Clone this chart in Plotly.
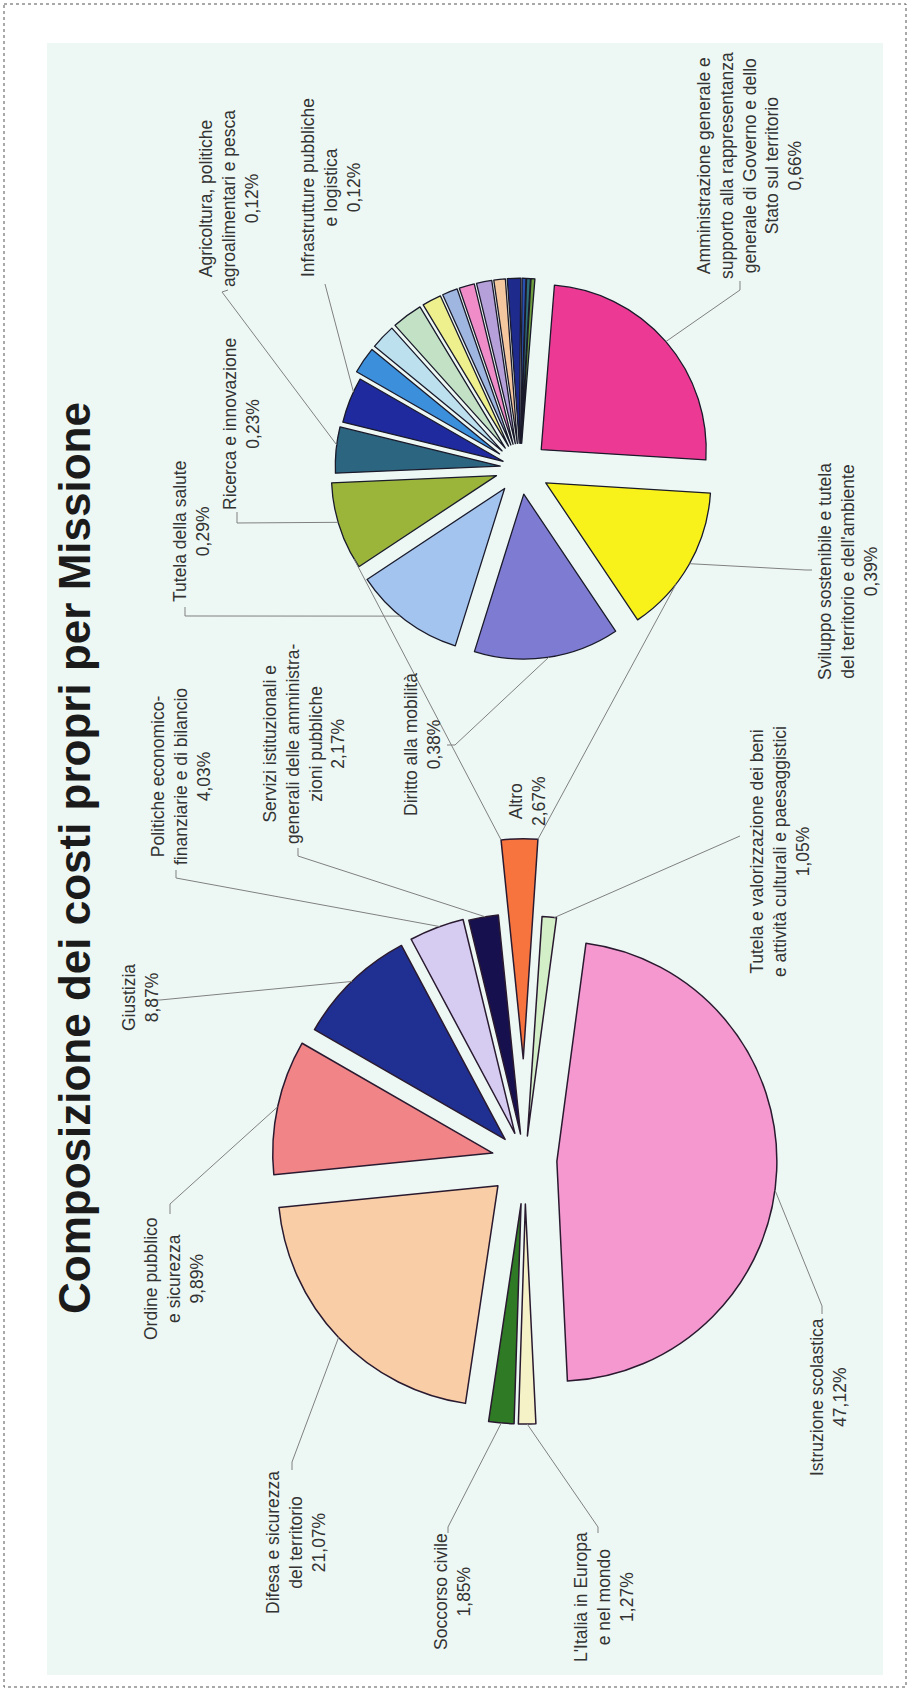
import math
import plotly.graph_objects as go

W, H = 911, 1691

# ---------------- data ----------------
main_names = ["Istruzione scolastica", "L'Italia in Europa e nel mondo", "Soccorso civile",
              "Difesa e sicurezza del territorio", "Ordine pubblico e sicurezza", "Giustizia",
              "Politiche economico-finanziarie e di bilancio",
              "Servizi istituzionali e generali delle amministrazioni pubbliche", "Altro",
              "Tutela e valorizzazione dei beni e attività culturali e paesaggistici"]
main_values = [47.12, 1.27, 1.85, 21.07, 9.89, 8.87, 4.03, 2.17, 2.67, 1.05]
main_colors = ["#F598D0", "#F6F2C8", "#2F7A24", "#F9CDA6", "#F08487", "#1F2F92",
               "#D6CCF2", "#16104F", "#F8743E", "#D2EFC8"]
main_label_lines = [["Istruzione scolastica"], ["L'Italia in Europa", "e nel mondo"], ["Soccorso civile"],
                    ["Difesa e sicurezza", "del territorio"], ["Ordine pubblico", "e sicurezza"], ["Giustizia"],
                    ["Politiche economico-", "finanziarie e di bilancio"],
                    ["Servizi istituzionali e", "generali delle amministra-", "zioni pubbliche"], ["Altro"],
                    ["Tutela e valorizzazione dei beni", "e attività culturali e paesaggistici"]]

sub_names = ["Amministrazione generale e supporto alla rappresentanza generale di Governo e dello Stato sul territorio",
             "Sviluppo sostenibile e tutela del territorio e dell'ambiente", "Diritto alla mobilità",
             "Tutela della salute", "Ricerca e innovazione", "Agricoltura, politiche agroalimentari e pesca",
             "Infrastrutture pubbliche e logistica",
             "Altre missioni 1", "Altre missioni 2", "Altre missioni 3", "Altre missioni 4", "Altre missioni 5",
             "Altre missioni 6", "Altre missioni 7", "Altre missioni 8", "Altre missioni 9", "Altre missioni 10",
             "Altre missioni 11", "Altre missioni 12"]
sub_values = [0.66, 0.39, 0.38, 0.29, 0.23, 0.12, 0.12,
              0.07, 0.065, 0.08, 0.05, 0.04, 0.04, 0.04, 0.03, 0.035, 0.01, 0.01, 0.01]
sub_colors = ["#EC3A94", "#F8F21A", "#7E7BD2", "#A2C4EF", "#9BB53B", "#2C6580", "#1E2A9E",
              "#3B8FDB", "#BDE0EF", "#C3E2C5", "#EEF08E", "#9FB7E0", "#F08DC9", "#B6A0D9",
              "#F5C79F", "#1E2A8C", "#2850B0", "#2F6F7A", "#6E9E3E"]
sub_label_lines = [["Amministrazione generale e", "supporto alla rappresentanza", "generale di Governo e dello", "Stato sul territorio"],
                   ["Sviluppo sostenibile e tutela", "del territorio e dell'ambiente"], ["Diritto alla mobilità"],
                   ["Tutela della salute"], ["Ricerca e innovazione"], ["Agricoltura, politiche", "agroalimentari e pesca"],
                   ["Infrastrutture pubbliche", "e logistica"]]

title_text = "Composizione dei costi propri per Missione"

# ---------------- layout parameters ----------------
main_c, main_r, main_rot = (525, 1160), 220, 7.6
main_pull = [0.145, 0.2, 0.2, 0.17, 0.15, 0.13, 0.13, 0.12, 0.46, 0.11]
sub_c, sub_r, sub_rot = (520, 468), 165, 4.6
sub_pull = [0.17, 0.18, 0.16, 0.155, 0.15, 0.12, 0.11] + [0.15] * 12

LINE = "#808080"
TXT = "#333333"
FONT = "Liberation Sans, Arial, sans-serif"


def px(x, y):
    return x / W, 1 - y / H


def domain_for(c, r, pulls):
    half = r * (1 + max(pulls))
    return dict(x=[(c[0] - half) / W, (c[0] + half) / W], y=[1 - (c[1] + half) / H, 1 - (c[1] - half) / H])


def geom(values, rot, pulls):
    tot = sum(values)
    acc, out = 0.0, []
    for v, p in zip(values, pulls):
        a0 = rot + 360 * acc / tot
        a1 = a0 + 360 * v / tot
        acc += v
        out.append((a0, a1, p))
    return out


def pie_point(g, c, r, i, t, rf=1.0):
    a0, a1, p = g[i]
    mid = math.radians((a0 + a1) / 2)
    a = math.radians(a0 + t * (a1 - a0))
    return (c[0] + p * r * math.sin(mid) + rf * r * math.sin(a),
            c[1] - p * r * math.cos(mid) - rf * r * math.cos(a))


def pct(v):
    return f"{v:.2f}".replace(".", ",") + "%"


main_g = geom(main_values, main_rot, main_pull)
sub_g = geom(sub_values, sub_rot, sub_pull)

fig = go.Figure()
fig.add_trace(go.Pie(labels=main_names, values=main_values, sort=False, direction="clockwise",
                     rotation=main_rot, pull=main_pull, textinfo="none", hoverinfo="label+percent",
                     marker=dict(colors=main_colors, line=dict(color="#2a1a30", width=1.5)),
                     domain=domain_for(main_c, main_r, main_pull), showlegend=False))
fig.add_trace(go.Pie(labels=sub_names, values=sub_values, sort=False, direction="clockwise",
                     rotation=sub_rot, pull=sub_pull, textinfo="none", hoverinfo="label+value",
                     marker=dict(colors=sub_colors, line=dict(color="#1a1a2a", width=1.3)),
                     domain=domain_for(sub_c, sub_r, sub_pull), showlegend=False))

shapes = []
# outer dotted frame and panel
x0, y0 = px(4, 4); x1, y1 = px(906, 1687)
shapes.append(dict(type="rect", xref="paper", yref="paper", x0=x0, y0=y0, x1=x1, y1=y1,
                   line=dict(color="#555555", width=1, dash="dot"), fillcolor="rgba(0,0,0,0)", layer="below"))
x0, y0 = px(47, 43); x1, y1 = px(883, 1675)
shapes.append(dict(type="rect", xref="paper", yref="paper", x0=x0, y0=y0, x1=x1, y1=y1,
                   line=dict(width=0), fillcolor="#EDF8F4", layer="below"))


def polyline(points):
    d = ""
    for k, (x, y) in enumerate(points):
        xp, yp = px(x, y)
        d += ("M" if k == 0 else " L") + f"{xp:.5f},{yp:.5f}"
    shapes.append(dict(type="path", xref="paper", yref="paper", path=d,
                       line=dict(color=LINE, width=1), layer="above"))


annotations = []


def label(lines, cx, cy):
    annotations.append(dict(text="<br>".join(lines), x=cx / W, y=1 - cy / H, xref="paper", yref="paper",
                            showarrow=False, textangle=-90, xanchor="center", yanchor="middle",
                            align="center", font=dict(family=FONT, size=17.5, color=TXT)))


# main pie labels: index -> label center px ; leader: label-side points + slice anchor fraction
main_lab_pos = {0: (828, 1397), 1: (604, 1597), 2: (452, 1592), 3: (296, 1543), 4: (174, 1279),
                5: (140, 998), 6: (181, 777), 7: (304, 744), 8: (528, 801), 9: (780, 852)}
main_leaders = {0: ([(822, 1306), (822, 1314)], 0.53), 1: ([(598, 1527), (598, 1533)], 0.5),
                2: ([(448, 1527), (448, 1533)], 0.5), 3: ([(292, 1462), (292, 1470)], 0.5),
                4: ([(170, 1204), (170, 1214)], 0.5), 5: ([(160, 1000), (154, 1000)], 0.5),
                6: ([(176, 878), (176, 870)], 0.56), 7: ([(298, 856), (298, 848)], 0.56),
                9: ([(740, 836)], 0.85)}
for i, name in enumerate(main_names):
    label(main_label_lines[i] + [pct(main_values[i])], *main_lab_pos[i])
    if i in main_leaders:
        pts, t = main_leaders[i]
        polyline([pie_point(main_g, main_c, main_r, i, t)] + pts)

sub_lab_pos = {0: (749, 166), 1: (848, 572), 2: (423, 745), 3: (191, 532), 4: (241, 424),
               5: (229, 199), 6: (331, 188)}
sub_leaders = {0: ([(740, 290), (740, 281)], 0.5), 1: ([(806, 570), (812, 570)], 0.49),
               2: ([(455, 745), (447, 745)], 0.49), 3: ([(185, 616), (185, 607)], 0.56),
               4: ([(237, 523), (237, 512)], 0.55), 5: ([(222, 292), (228, 290)], 0.61),
               6: ([(325, 284)], 0.69)}
for i in range(len(sub_label_lines)):
    label(sub_label_lines[i] + [pct(sub_values[i])], *sub_lab_pos[i])
    pts, t = sub_leaders[i]
    polyline([pie_point(sub_g, sub_c, sub_r, i, t)] + pts)

# connectors from "Altro" slice to the secondary pie
altro = main_names.index("Altro")
polyline([pie_point(main_g, main_c, main_r, altro, 0.0), pie_point(sub_g, sub_c, sub_r, 4, 0.1)])
polyline([pie_point(main_g, main_c, main_r, altro, 1.0), pie_point(sub_g, sub_c, sub_r, 1, 0.65)])

# title
annotations.append(dict(text="<b>" + title_text + "</b>", x=74 / W, y=1 - 858 / H, xref="paper", yref="paper",
                        showarrow=False, textangle=-90, xanchor="center", yanchor="middle",
                        font=dict(family=FONT, size=44, color="#1b1b1b")))

fig.update_layout(width=W, height=H, margin=dict(l=0, r=0, t=0, b=0),
                  paper_bgcolor="white", plot_bgcolor="white", showlegend=False,
                  shapes=shapes, annotations=annotations)
fig.write_html("out.html", config={"displayModeBar": False},
               post_script="document.body.style.margin='0';document.body.style.overflow='hidden';")
